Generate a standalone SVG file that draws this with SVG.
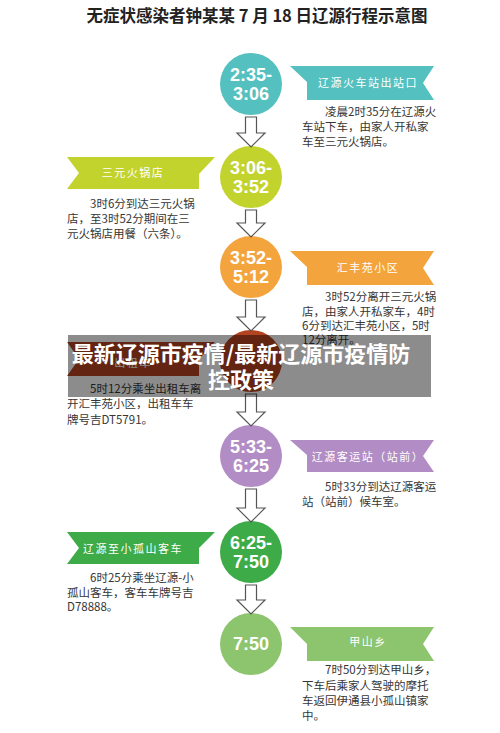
<svg xmlns="http://www.w3.org/2000/svg" width="500" height="733" viewBox="0 0 500 733">
<style>
.title{font-family:"Noto Sans CJK SC","Liberation Sans",sans-serif;font-weight:bold;font-size:16.5px;fill:#222;text-anchor:middle}
.ct{font-family:"Liberation Sans","DejaVu Sans",sans-serif;font-weight:bold;font-size:18px;fill:#fff;text-anchor:middle}
.rt{font-family:"Noto Sans CJK SC",sans-serif;font-size:11px;fill:#fff;text-anchor:middle;letter-spacing:1.5px}
.dt{font-family:"Noto Sans CJK SC",sans-serif;font-size:11.5px;fill:#363636}
.arr{fill:#fff;stroke:#555;stroke-width:1.2}
.ov{font-family:"Noto Sans CJK SC",sans-serif;font-weight:bold;font-size:22px;fill:#fff;text-anchor:middle}
</style>
<rect width="500" height="733" fill="#fff"/>
<text class="title" x="257" y="22">无症状感染者钟某某 7 月 18 日辽源行程示意图</text>

<g id="node1">
<circle cx="251" cy="84" r="31" fill="#55c0c0"/>
<text class="ct" x="251" y="81">2:35-</text><text class="ct" x="251" y="100">3:06</text>
<polygon points="290,66 434,66 423,83 434,100 307,100 307,82" fill="#55c0c0"/>
<text class="rt" x="368" y="87">辽源火车站出站口</text>
<text class="dt" x="302" y="116">　　凌晨2时35分在辽源火</text>
<text class="dt" x="302" y="131">车站下车，由家人开私家</text>
<text class="dt" x="302" y="146">车至三元火锅店。</text>
</g>

<g id="node2">
<circle cx="251" cy="177" r="31" fill="#c3d32e"/>
<text class="ct" x="251" y="174">3:06-</text><text class="ct" x="251" y="193">3:52</text>
<polygon points="67,157 215,157 199,174 199,189 67,189 79,173" fill="#c3d32e"/>
<text class="rt" x="133" y="177">三元火锅店</text>
<text class="dt" x="67" y="208">　　3时6分到达三元火锅</text>
<text class="dt" x="67" y="223">店，至3时52分期间在三</text>
<text class="dt" x="67" y="238">元火锅店用餐（六条）。</text>
</g>

<g id="node3">
<circle cx="251" cy="267" r="31" fill="#f4a43c"/>
<text class="ct" x="251" y="264">3:52-</text><text class="ct" x="251" y="283">5:12</text>
<polygon points="290,251 434,251 423,268 434,285 307,285 307,267" fill="#f4a43c"/>
<text class="rt" x="368" y="272">汇丰苑小区</text>
<text class="dt" x="302" y="301">　　3时52分离开三元火锅</text>
<text class="dt" x="302" y="316">店，由家人开私家车，4时</text>
<text class="dt" x="302" y="330">6分到达汇丰苑小区，5时</text>
<text class="dt" x="302" y="344">12分离开。</text>
</g>

<g id="node4">
<circle cx="251" cy="361" r="31" fill="#b4441f"/>
<polygon points="67,342 215,342 199,359 199,376 67,376 79,359" fill="#b4441f"/>
<text class="rt" x="133" y="367">出租车</text>
<text class="dt" x="67" y="393">　　5时12分乘坐出租车离</text>
<text class="dt" x="67" y="408">开汇丰苑小区，出租车车</text>
<text class="dt" x="67" y="424">牌号吉DT5791。</text>
</g>

<g id="node5">
<circle cx="251" cy="456" r="31" fill="#b28cc4"/>
<text class="ct" x="251" y="453">5:33-</text><text class="ct" x="251" y="472">6:25</text>
<polygon points="290,440 434,440 423,456 434,472 307,472 307,455" fill="#b28cc4"/>
<text class="rt" x="368" y="461">辽源客运站（站前）</text>
<text class="dt" x="302" y="491">　　5时33分到达辽源客运</text>
<text class="dt" x="302" y="506">站（站前）候车室。</text>
</g>

<g id="node6">
<circle cx="251" cy="552" r="31" fill="#3dab48"/>
<text class="ct" x="251" y="549">6:25-</text><text class="ct" x="251" y="568">7:50</text>
<polygon points="67,532 215,532 199,548 199,564 67,564 79,548" fill="#3dab48"/>
<text class="rt" x="133" y="553">辽源至小孤山客车</text>
<text class="dt" x="67" y="582">　　6时25分乘坐辽源-小</text>
<text class="dt" x="67" y="597">孤山客车，客车车牌号吉</text>
<text class="dt" x="67" y="611">D78888。</text>
</g>

<g id="node7">
<circle cx="251" cy="644" r="31" fill="#8dc56e"/>
<text class="ct" x="251" y="650">7:50</text>
<polygon points="290,627 434,627 423,644 434,661 307,661 307,644" fill="#8dc56e"/>
<text class="rt" x="368" y="646">甲山乡</text>
<text class="dt" x="302" y="674">　　7时50分到达甲山乡，</text>
<text class="dt" x="302" y="690">下车后乘家人驾驶的摩托</text>
<text class="dt" x="302" y="705">车返回伊通县小孤山镇家</text>
<text class="dt" x="302" y="720">中。</text>
</g>

<g id="connectors">
<polygon class="arr" points="245.5,117 256.5,117 256.5,133 265,133 251,147 237,133 245.5,133"/>
<polygon class="arr" points="245.5,210 256.5,210 256.5,223 265,223 251,237 237,223 245.5,223"/>
<polygon class="arr" points="245.5,300 256.5,300 256.5,317 265,317 251,331 237,317 245.5,317"/>
<polygon class="arr" points="245.5,394 256.5,394 256.5,412 265,412 251,426 237,412 245.5,412"/>
<polygon class="arr" points="245.5,489 256.5,489 256.5,508 265,508 251,522 237,508 245.5,508"/>
<polygon class="arr" points="245.5,585 256.5,585 256.5,600 265,600 251,614 237,600 245.5,600"/>
</g>

<g id="overlay">
<rect x="68" y="335" width="363" height="62" fill="#000" fill-opacity="0.45"/>
<text class="ov" x="241" y="362">最新辽源市疫情/最新辽源市疫情防</text>
<text class="ov" x="241" y="388">控政策</text>
</g>
</svg>
